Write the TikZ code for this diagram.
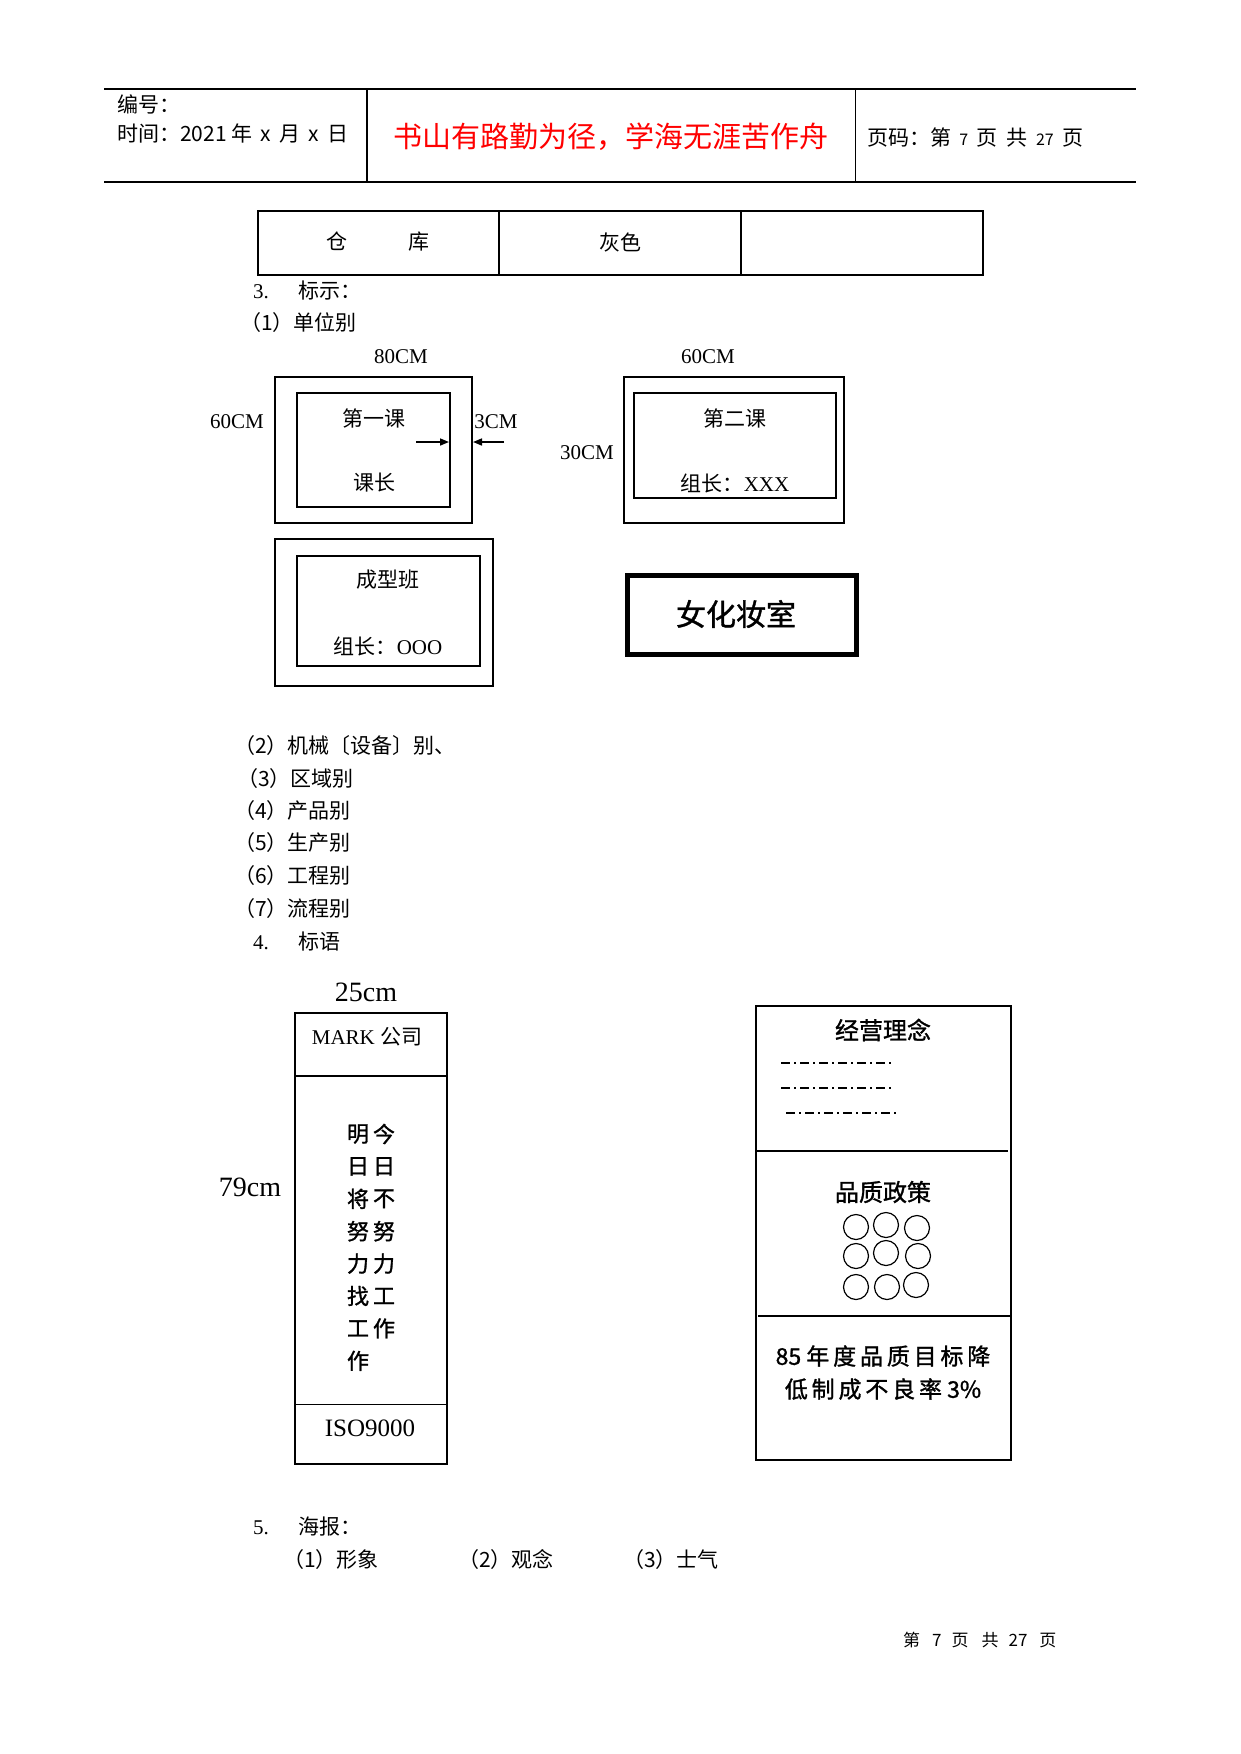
\documentclass[tikz,border=0pt]{standalone}
\usepackage{fontspec}
\setmainfont{Liberation Serif}
\newfontfamily\cjk{Noto Sans CJK SC}
\newfontfamily\cjkm{Noto Sans CJK SC}[FakeBold=1.2]
\usetikzlibrary{arrows.meta}
\begin{document}
\begin{tikzpicture}[x=1pt,y=-1pt,
  txt/.style={inner sep=0pt, font=\cjk\fontsize{21}{25}\selectfont},
  ltxt/.style={txt, anchor=west},
  rom/.style={inner sep=0pt, font=\fontsize{21}{25}\selectfont},
  boxo/.style={draw, line width=2pt, inner sep=0pt, outer sep=0pt, anchor=north west},
  thin/.style={line width=1.2pt},
  arr/.style={line width=1.6pt, -{Triangle[length=9pt,width=7pt]}},
  ring/.style={draw, circle, line width=1.2pt, minimum size=25pt, inner sep=0pt},
  dd/.style={line width=1.2pt, dash pattern=on 9pt off 4pt on 2pt off 4pt},
  btxt/.style={inner sep=0pt, font=\cjkm\fontsize{22}{26}\selectfont}
]
\useasboundingbox[fill=white] (0,0) rectangle (1241,1754);

% ---------- header ----------
\coordinate (htl) at (104,89);
\coordinate (htr) at (1136,89);
\coordinate (hbl) at (104,182);
\coordinate (hbr) at (1136,182);
\coordinate (hv1t) at (367,89);
\coordinate (hv1b) at (367,182);
\coordinate (hv2t) at (855,89);
\coordinate (hv2b) at (855,182);
\draw[thin] (htl) -- (htr);
\draw[thin] (hbl) -- (hbr);
\draw[line width=2pt] (hv1t) -- (hv1b);
\draw[line width=1pt] (hv2t) -- (hv2b);
\node[ltxt, font=\cjk\fontsize{21}{24}\selectfont] (hno) at (117,104) {编号：};
\node[ltxt, font=\cjk\fontsize{21}{24}\selectfont] (htime) at (117,133) {时间：2021\ 年\,\ x\,\ 月\,\ x\,\ 日};
\node[txt, text=red, font=\cjk\fontsize{29}{34}\selectfont] (motto) at (611,137) {书山有路勤为径，学海无涯苦作舟};
\node[ltxt, font=\cjk\fontsize{21}{24}\selectfont] (hpage) at (867,137) {页码：第\,\ {\fontsize{16}{20}\selectfont 7}\,\ 页\ \ 共\,\ {\fontsize{16}{20}\selectfont 27}\,\ 页};

% ---------- colour table ----------
\node[draw, line width=1.5pt, inner sep=0pt, anchor=north west, minimum width=725pt, minimum height=64pt] (tab) at (257,210) {};
\coordinate (tv1t) at (499,210);
\coordinate (tv1b) at (499,274);
\coordinate (tv2t) at (741,210);
\coordinate (tv2b) at (741,274);
\draw[line width=1.5pt] (tv1t) -- (tv1b);
\draw[line width=2.5pt] (tv2t) -- (tv2b);
\node[txt] (tcang) at (378,242) {仓\hspace{62pt}库};
\node[txt] (tgray) at (620,242) {灰色};

% ---------- section 3 ----------
\node[rom, anchor=west] (s3) at (253,291) {3.\hspace{30pt}{\cjk 标示：}};
\node[ltxt] (s31) at (240,323) {（1）单位别};

% box 1
\node[boxo, minimum width=197pt, minimum height=146pt] (b1o) at (275,377) {};
\node[boxo, minimum width=153pt, minimum height=114pt] (b1i) at (297,393) {};
\node[rom] (b1w) at (401,357) {80CM};
\node[rom] (b1h) at (237,422) {60CM};
\node[rom] (b1m) at (496,422) {3CM};
\node[txt] (b1t) at (374,418) {第一课};
\node[txt] (b1b) at (374,483) {课长};
\coordinate (a1s) at (416,442);
\coordinate (a1e) at (449,442);
\coordinate (a2s) at (504,442);
\coordinate (a2e) at (473,442);
\draw[arr] (a1s) -- (a1e);
\draw[arr] (a2s) -- (a2e);

% box 2
\node[boxo, minimum width=220pt, minimum height=146pt] (b2o) at (624,377) {};
\node[boxo, minimum width=202pt, minimum height=105pt] (b2i) at (634,393) {};
\node[rom] (b2w) at (708,357) {60CM};
\node[rom] (b2h) at (587,453) {30CM};
\node[txt] (b2t) at (735,418) {第二课};
\node[txt] (b2b) at (735,483) {组长：{\rmfamily XXX}};

% box 3
\node[boxo, minimum width=218pt, minimum height=147pt] (b3o) at (275,539) {};
\node[boxo, minimum width=183pt, minimum height=110pt] (b3i) at (297,556) {};
\node[txt] (b3t) at (388,580) {成型班};
\node[txt] (b3b) at (388,646) {组长：{\rmfamily OOO}};

% box 4
\node[draw, line width=4.5pt, inner sep=0pt, anchor=north west, minimum width=229pt, minimum height=79pt] (b4) at (625,573) {};
\node[txt, font=\cjkm\fontsize{30}{36}\selectfont] (b4t) at (736,614) {女化妆室};

% ---------- list ----------
\node[ltxt] (l2) at (234,746) {（2）机械〔设备〕别、};
\node[ltxt] (l3) at (237,779) {（3）区域别};
\node[ltxt] (l4) at (234,811) {（4）产品别};
\node[ltxt] (l5) at (234,843) {（5）生产别};
\node[ltxt] (l6) at (234,876) {（6）工程别};
\node[ltxt] (l7) at (234,909) {（7）流程别};
\node[rom, anchor=west] (s4) at (253,942) {4.\hspace{30pt}{\cjk 标语}};

% ---------- banner ----------
\node[draw, line width=1.6pt, inner sep=0pt, anchor=north west, minimum width=152pt, minimum height=451pt] (ban) at (294,1012) {};
\node[rom, font=\fontsize{28}{32}\selectfont] (banw) at (366,992) {25cm};
\node[rom, font=\fontsize{28}{32}\selectfont] (banh) at (250,1187) {79cm};
\draw[line width=1.6pt] ([yshift=-64pt]ban.north west) -- ([yshift=-64pt]ban.north east);
\draw[line width=1.6pt] ([yshift=60pt]ban.south west) -- ([yshift=60pt]ban.south east);
\node[rom] (mark) at (367,1037) {MARK {\cjk 公司}};
\node[rom, font=\fontsize{25}{30}\selectfont] (iso) at (370,1428) {ISO9000};
\foreach \c [count=\i from 0] in {明,日,将,努,力,找,工,作}
  \node[btxt] (va\i) at (358,1134+32.4*\i) {\c};
\foreach \c [count=\i from 0] in {今,日,不,努,力,工,作}
  \node[btxt] (vb\i) at (384,1134+32.4*\i) {\c};

% ---------- right panel ----------
\node[draw, line width=1.6pt, inner sep=0pt, anchor=north west, minimum width=255pt, minimum height=454pt] (pan) at (755,1005) {};
\coordinate (pd1l) at (757,1151);
\coordinate (pd1r) at (1008,1151);
\coordinate (pd2l) at (758,1316);
\coordinate (pd2r) at (1010,1316);
\draw[line width=2.4pt] (pd1l) -- (pd1r);
\draw[line width=1.3pt] (pd2l) -- (pd2r);
\node[btxt, font=\cjkm\fontsize{24}{28}\selectfont] (pt1) at (883,1030) {经营理念};
\coordinate (d1s) at (781,1063);
\coordinate (d1e) at (892,1063);
\coordinate (d2s) at (781,1088);
\coordinate (d2e) at (892,1088);
\coordinate (d3s) at (786,1113);
\coordinate (d3e) at (896,1113);
\draw[dd] (d1s) -- (d1e);
\draw[dd] (d2s) -- (d2e);
\draw[dd] (d3s) -- (d3e);
\node[btxt, font=\cjkm\fontsize{24}{28}\selectfont] (pt2) at (883,1192) {品质政策};
\node[ring] (c11) at (856,1227) {};
\node[ring] (c12) at (886,1225) {};
\node[ring] (c13) at (917,1228) {};
\node[ring] (c21) at (856,1256) {};
\node[ring] (c22) at (886,1253) {};
\node[ring] (c23) at (918,1256) {};
\node[ring] (c31) at (856,1287) {};
\node[ring] (c32) at (887,1287) {};
\node[ring] (c33) at (916,1285) {};
\node[btxt, font=\cjkm\fontsize{23}{27}\selectfont] (pt3a) at (883,1356) {85\ 年\,度\,品\,质\,目\,标\,降};
\node[btxt, font=\cjkm\fontsize{23}{27}\selectfont] (pt3b) at (883,1389) {低\,制\,成\,不\,良\,率\ 3\%};

% ---------- section 5 ----------
\node[rom, anchor=west] (s5) at (253,1527) {5.\hspace{30pt}{\cjk 海报：}};
\node[ltxt] (p1) at (283,1559) {（1）形象};
\node[ltxt] (p2) at (458,1559) {（2）观念};
\node[ltxt] (p3) at (623,1559) {（3）士气};

% ---------- footer ----------
\node[ltxt, font=\cjk\fontsize{17}{20}\selectfont] (foot) at (903,1640) {第\hspace{12pt}7\hspace{10pt}页\hspace{13pt}共\hspace{10pt}27\hspace{12pt}页};
\end{tikzpicture}
\end{document}
